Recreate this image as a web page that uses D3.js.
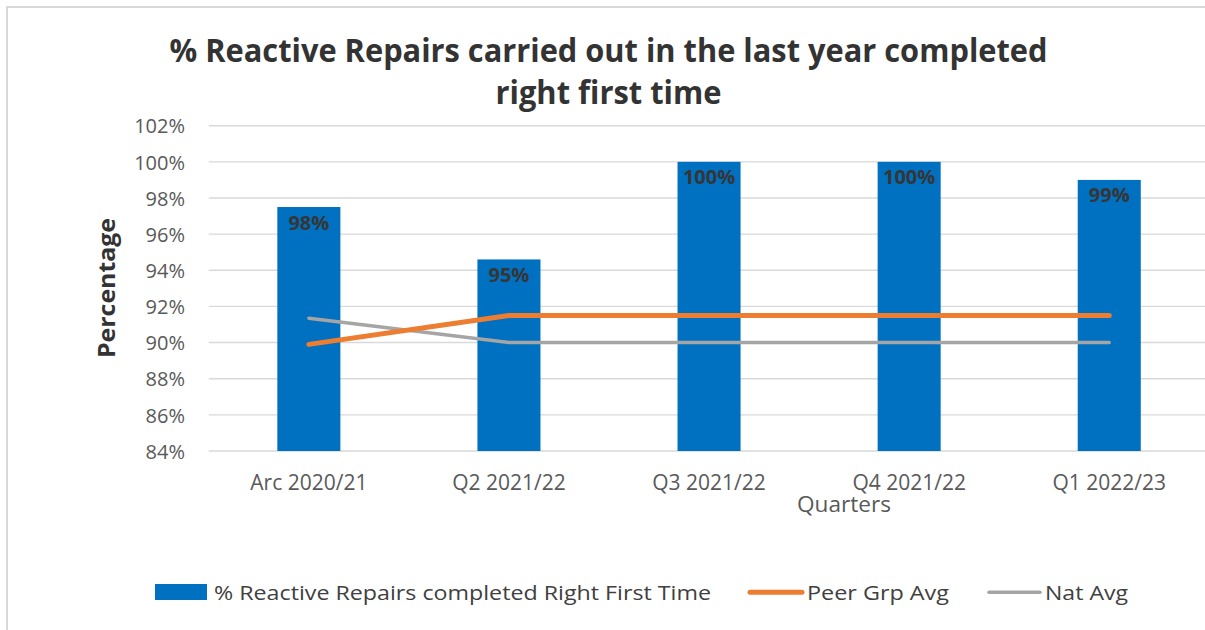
<!DOCTYPE html>
<html>
<head>
<meta charset="utf-8">
<script src="https://cdn.jsdelivr.net/npm/d3@7"></script>
<style>
  html, body { margin: 0; padding: 0; background: #fff; }
  svg { display: block; }
  text { font-family: "Open Sans", "Noto Sans", sans-serif; }
</style>
</head>
<body>
<svg id="chart" width="1205" height="630"></svg>
<script>
// ---- data ----
const categories = ["Arc 2020/21", "Q2 2021/22", "Q3 2021/22", "Q4 2021/22", "Q1 2022/23"];
const rftValues = [97.5, 94.6, 100, 100, 99.0];
const rftLabels = ["98%", "95%", "100%", "100%", "99%"];
const peerAvg = [89.9, 91.5, 91.5, 91.5, 91.5];
const natAvg = [91.35, 90.0, 90.0, 90.0, 90.0];
const yTicks = [84, 86, 88, 90, 92, 94, 96, 98, 100, 102];
const titleLines = ["% Reactive Repairs carried out in the last year completed", "right first time"];
const seriesNames = ["% Reactive Repairs completed Right First Time", "Peer Grp Avg", "Nat Avg"];
const xAxisTitle = "Quarters";
const yAxisTitle = "Percentage";

// ---- layout ----
const svg = d3.select("#chart");
const blue = "#0070C0", orange = "#ED7D31", gray = "#A5A5A5";

// outer frame
svg.append("rect").attr("x", 7).attr("y", 7).attr("width", 1260).attr("height", 700)
  .attr("fill", "none").attr("stroke", "#d9d9d9").attr("stroke-width", 2);

const x = d3.scaleBand().domain(categories).range([208.8, 1209.3])
  .paddingInner(0.685).paddingOuter(0.3425);
const y = d3.scaleLinear().domain([84, 102]).range([451, 125.7]);

// gridlines
const grid = svg.append("g");
grid.selectAll("line").data(yTicks).join("line")
  .attr("x1", 208.8).attr("x2", 1205)
  .attr("y1", d => y(d)).attr("y2", d => y(d))
  .attr("stroke", "#d9d9d9").attr("stroke-width", 1.4);

// y axis labels
const yAxis = d3.axisLeft(y).tickValues(yTicks).tickFormat(d => d + "%").tickSize(0).tickPadding(0);
const yg = svg.append("g").attr("transform", "translate(185,0)").call(yAxis);
yg.select(".domain").remove();
yg.selectAll("text").attr("font-family", "Open Sans").attr("font-size", 20)
  .attr("fill", "#595959").attr("dy", "0.36em");

// x axis labels
const xAxis = d3.axisBottom(x).tickSize(0).tickPadding(0);
const xg = svg.append("g").attr("transform", "translate(0,490)").call(xAxis);
xg.select(".domain").remove();
xg.selectAll("text").attr("font-family", "Open Sans").attr("font-size", 21)
  .attr("fill", "#595959").attr("dy", 0).attr("y", 0);

// bars
svg.append("g").selectAll("rect").data(rftValues).join("rect")
  .attr("x", (d, i) => x(categories[i]))
  .attr("width", x.bandwidth())
  .attr("y", d => y(d))
  .attr("height", d => y(84) - y(d))
  .attr("fill", blue);

// lines
const line = d3.line()
  .x((d, i) => x(categories[i]) + x.bandwidth() / 2)
  .y(d => y(d));
svg.append("path").datum(natAvg).attr("d", line)
  .attr("fill", "none").attr("stroke", gray).attr("stroke-width", 3.5)
  .attr("stroke-linecap", "round").attr("stroke-linejoin", "round");
svg.append("path").datum(peerAvg).attr("d", line)
  .attr("fill", "none").attr("stroke", orange).attr("stroke-width", 5)
  .attr("stroke-linecap", "round").attr("stroke-linejoin", "round");

// bar labels
svg.append("g").selectAll("text").data(rftValues).join("text")
  .attr("x", (d, i) => x(categories[i]) + x.bandwidth() / 2)
  .attr("y", d => y(d) + 22.5)
  .attr("text-anchor", "middle")
  .attr("font-size", 20).attr("font-weight", "bold").attr("fill", "#363636")
  .text((d, i) => rftLabels[i]);

// title
const titleLens = [878, 226];
const titleY = [62, 103.5];
svg.append("g").selectAll("text").data(titleLines).join("text")
  .attr("x", 608.5).attr("y", (d, i) => titleY[i])
  .attr("text-anchor", "middle")
  .attr("font-size", 32).attr("font-weight", "bold").attr("fill", "#333333")
  .attr("textLength", (d, i) => titleLens[i]).attr("lengthAdjust", "spacingAndGlyphs")
  .text(d => d);

// axis titles
svg.append("text").attr("x", 844).attr("y", 512)
  .attr("text-anchor", "middle").attr("font-size", 21).attr("fill", "#595959")
  .attr("textLength", 94).attr("lengthAdjust", "spacingAndGlyphs")
  .text(xAxisTitle);
svg.append("text").attr("transform", "translate(115,288) rotate(-90)")
  .attr("text-anchor", "middle").attr("font-size", 24).attr("font-weight", "bold")
  .attr("fill", "#333333")
  .attr("textLength", 140).attr("lengthAdjust", "spacingAndGlyphs")
  .text(yAxisTitle);

// legend
const lg = svg.append("g");
lg.append("rect").attr("x", 155).attr("y", 584).attr("width", 52).attr("height", 16).attr("fill", blue);
lg.append("line").attr("x1", 750).attr("x2", 802).attr("y1", 592.3).attr("y2", 592.3)
  .attr("stroke", orange).attr("stroke-width", 5).attr("stroke-linecap", "round");
lg.append("line").attr("x1", 989).attr("x2", 1040).attr("y1", 592.3).attr("y2", 592.3)
  .attr("stroke", gray).attr("stroke-width", 3.5).attr("stroke-linecap", "round");
const legX = [214, 807, 1045];
const legLen = [497, 142, 83];
lg.selectAll("text").data(seriesNames).join("text")
  .attr("x", (d, i) => legX[i]).attr("y", 599.5)
  .attr("font-size", 20).attr("fill", "#404040")
  .attr("textLength", (d, i) => legLen[i]).attr("lengthAdjust", "spacingAndGlyphs")
  .text(d => d);
</script>
</body>
</html>
